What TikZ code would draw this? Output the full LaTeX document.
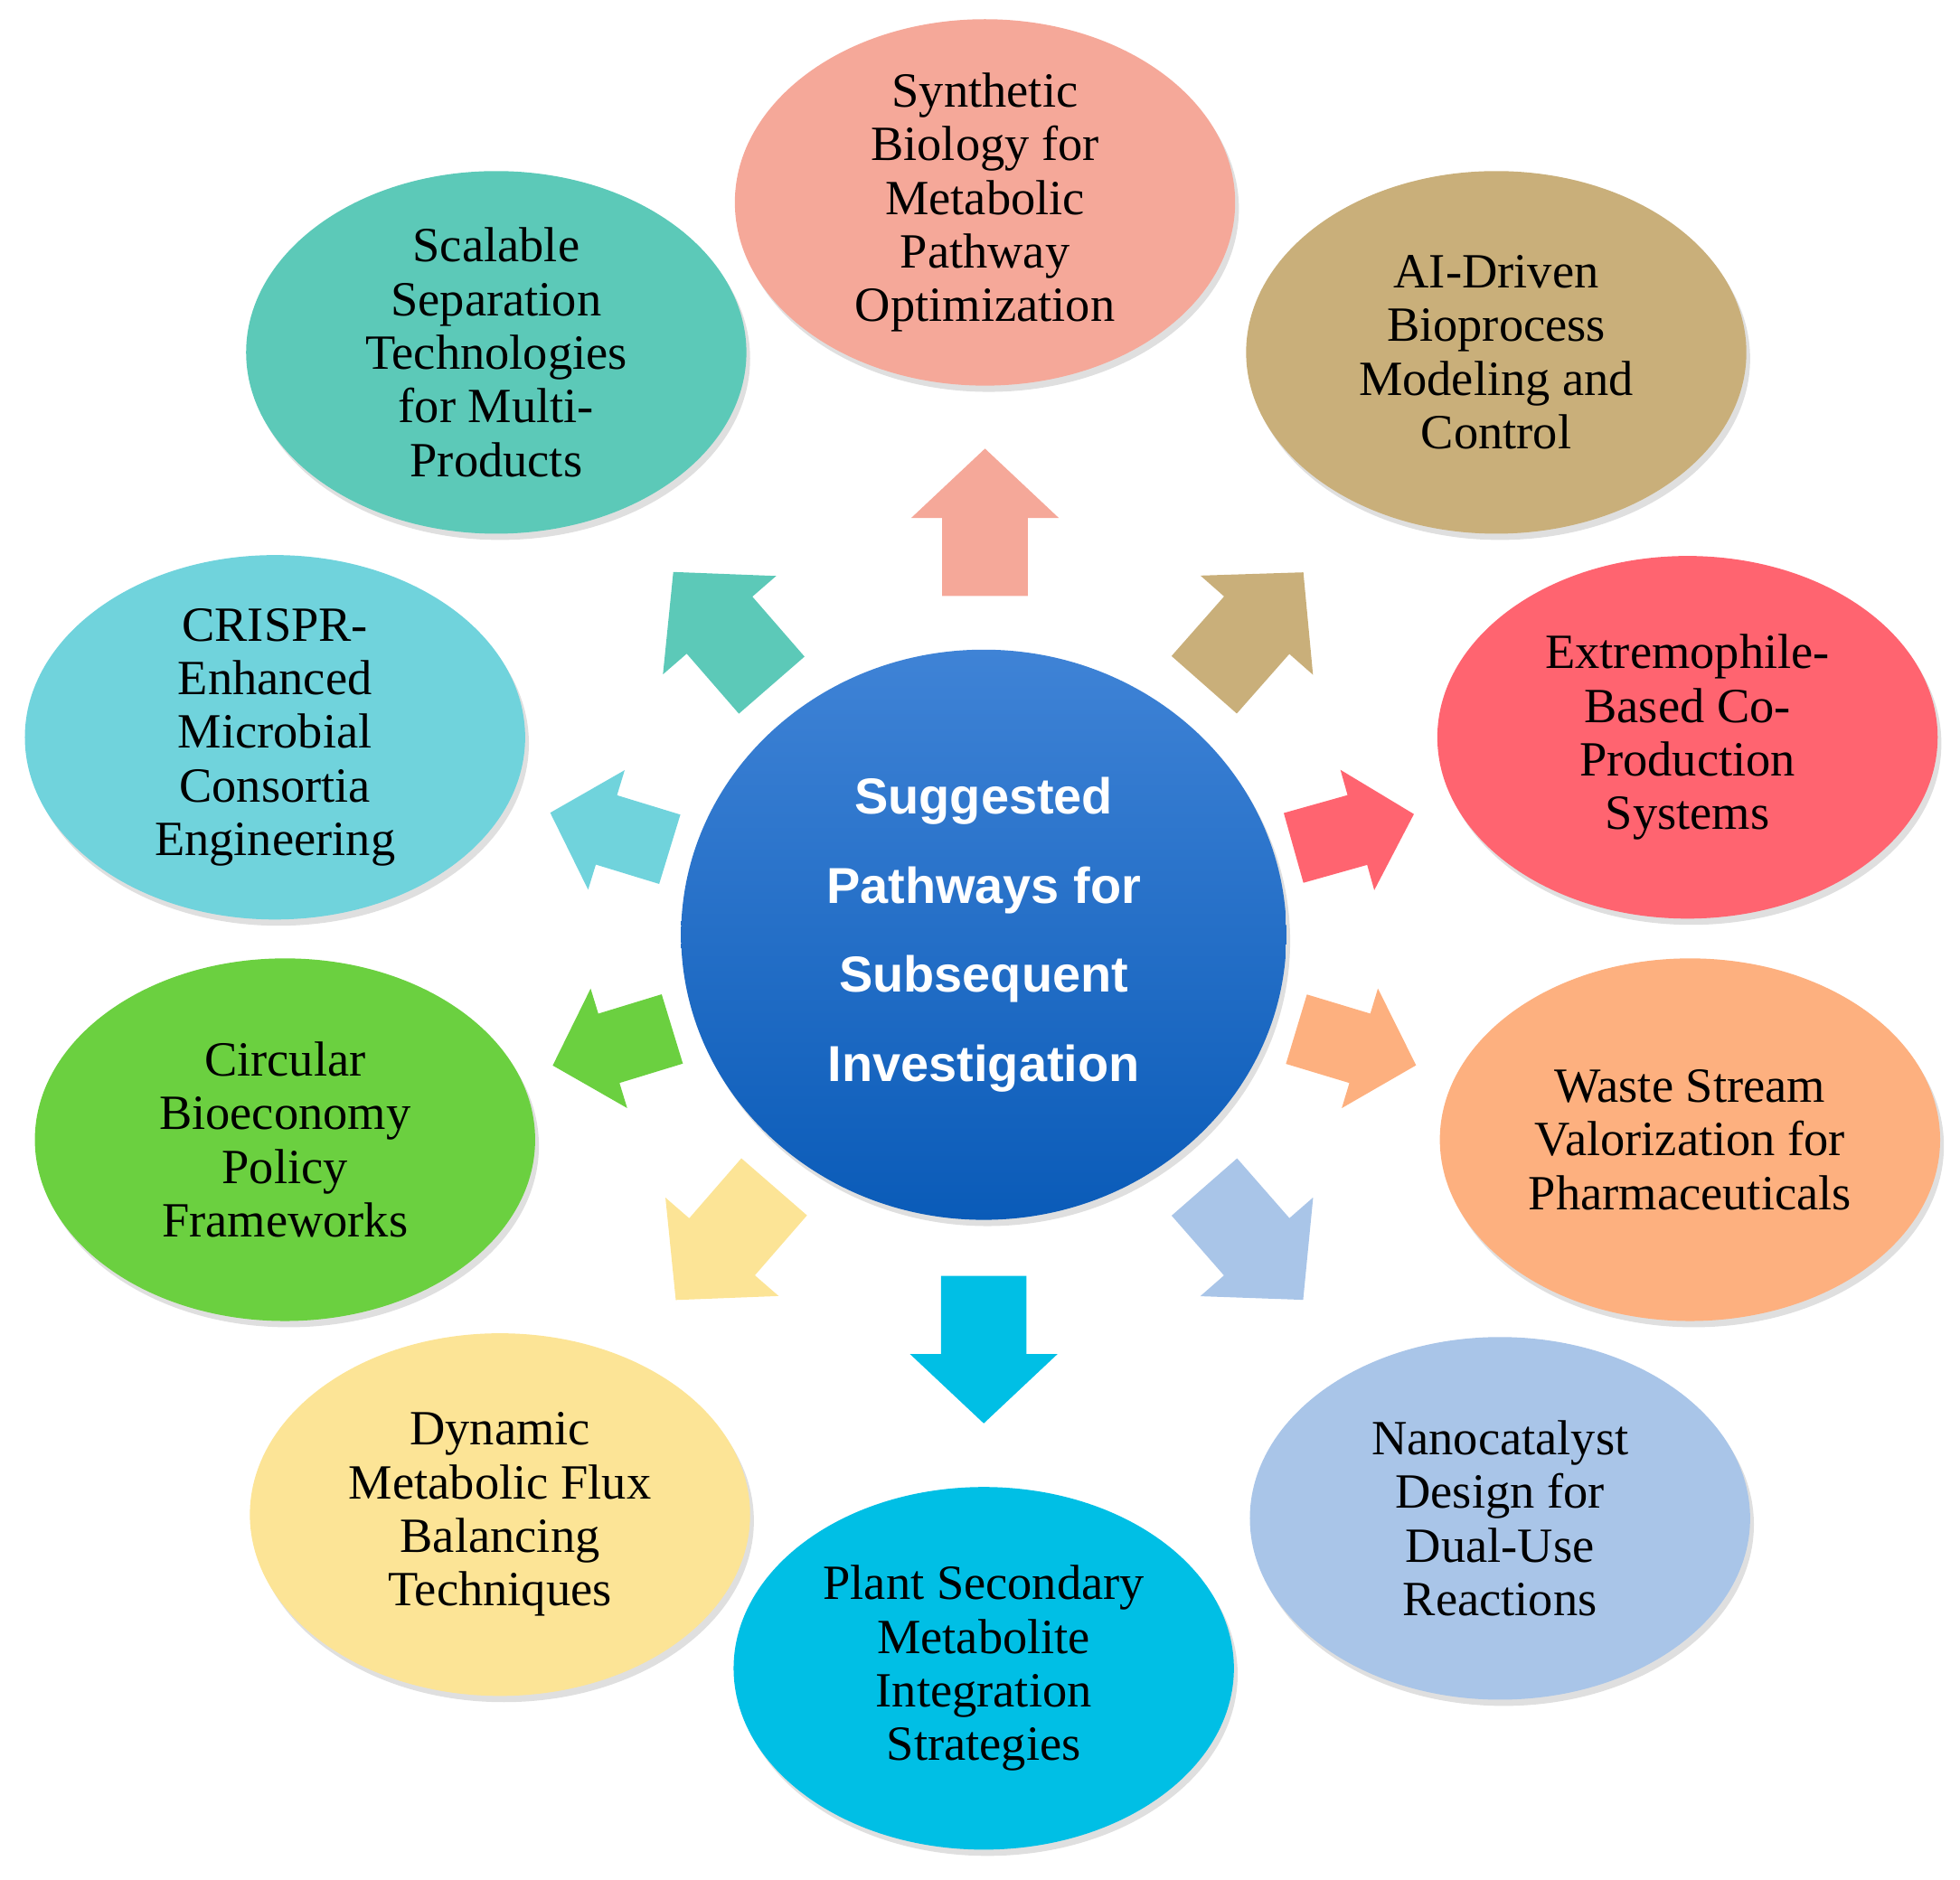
\documentclass[tikz,border=0pt]{standalone}
\usepackage{fontspec}
\setmainfont{Liberation Serif}
\newfontfamily\sansb{Liberation Sans}
\usetikzlibrary{shapes.geometric,shadows}
\definecolor{cSyn}{HTML}{F5A899}
\definecolor{cAI}{HTML}{C9AF7A}
\definecolor{cExt}{HTML}{FF6470}
\definecolor{cWas}{HTML}{FDB07F}
\definecolor{cNan}{HTML}{A9C5E8}
\definecolor{cPla}{HTML}{00BFE5}
\definecolor{cDyn}{HTML}{FCE496}
\definecolor{cCir}{HTML}{6BD040}
\definecolor{cCri}{HTML}{70D3DC}
\definecolor{cSca}{HTML}{5CC9B8}
\definecolor{ctop}{HTML}{3F83D6}
\definecolor{cbot}{HTML}{0A5BB8}
\begin{document}
\begin{tikzpicture}[x=0.01cm,y=0.01cm,
  topic/.style={ellipse,minimum width=4cm,minimum height=2.9cm,inner sep=0pt,
    align=center,font=\fontsize{11.2}{12.2}\selectfont,
    drop shadow={shadow xshift=0.03cm,shadow yshift=-0.05cm,opacity=0.25}},
  big/.style={shift={#1}},
]
\useasboundingbox (0,0) rectangle (1568,1504);
\newcommand\arrowshape[5]{% x y angle length color
  \fill[#5,shift={(#1,{1504-#2})},rotate=#3]
    ({-#4/2},-0.29*#4) -- ({#4/2-0.47*#4},-0.29*#4) -- ({#4/2-0.47*#4},-0.5*#4)
    -- ({#4/2},0) -- ({#4/2-0.47*#4},0.5*#4) -- ({#4/2-0.47*#4},0.29*#4)
    -- ({-#4/2},0.29*#4) -- cycle;}
\node[topic,fill=cSyn] (syn) at (788,{1504-162}) {Synthetic\\Biology for\\Metabolic\\Pathway\\Optimization};
\node[topic,fill=cAI] (ai) at (1197,{1504-282}) {AI-Driven\\Bioprocess\\Modeling and\\Control};
\node[topic,fill=cExt] (ext) at (1350,{1504-590}) {Extremophile-\\Based Co-\\Production\\Systems};
\node[topic,fill=cWas] (was) at (1352,{1504-912}) {Waste Stream\\Valorization for\\Pharmaceuticals};
\node[topic,fill=cNan] (nan) at (1200,{1504-1215}) {Nanocatalyst\\Design for\\Dual-Use\\Reactions};
\node[topic,fill=cPla] (pla) at (787,{1504-1335}) {Plant Secondary\\Metabolite\\Integration\\Strategies};
\node[topic,fill=cDyn] (dyn) at (400,{1504-1212}) {Dynamic\\Metabolic Flux\\Balancing\\Techniques};
\node[topic,fill=cCir] (cir) at (228,{1504-912}) {Circular\\Bioeconomy\\Policy\\Frameworks};
\node[topic,fill=cCri] (cri) at (220,{1504-590}) {CRISPR-\\Enhanced\\Microbial\\Consortia\\Engineering};
\node[topic,fill=cSca] (sca) at (397,{1504-282}) {Scalable\\Separation\\Technologies\\for Multi-\\Products};
\node[ellipse,minimum width=4.84cm,minimum height=4.56cm,top color=ctop,bottom color=cbot,
  drop shadow={shadow xshift=0.03cm,shadow yshift=-0.05cm,opacity=0.25},
  text=white,align=center,font=\sansb\bfseries\fontsize{11.5}{20.3}\selectfont] (c) at (787,{1504-748})
  {Suggested\\Pathways for\\Subsequent\\Investigation};
\arrowshape{788}{418}{90}{118}{cSyn}
\arrowshape{1003}{503}{48.6}{120}{cAI}
\arrowshape{1083}{665}{15.7}{100}{cExt}
\arrowshape{1085}{838}{-16.8}{100}{cWas}
\arrowshape{1003}{995}{-48.8}{120}{cNan}
\arrowshape{787}{1080}{-90}{118}{cPla}
\arrowshape{580}{995}{-131}{120}{cDyn}
\arrowshape{490}{838}{-163}{100}{cCir}
\arrowshape{488}{665}{163}{100}{cCri}
\arrowshape{578}{503}{131}{120}{cSca}
\end{tikzpicture}
\end{document}
